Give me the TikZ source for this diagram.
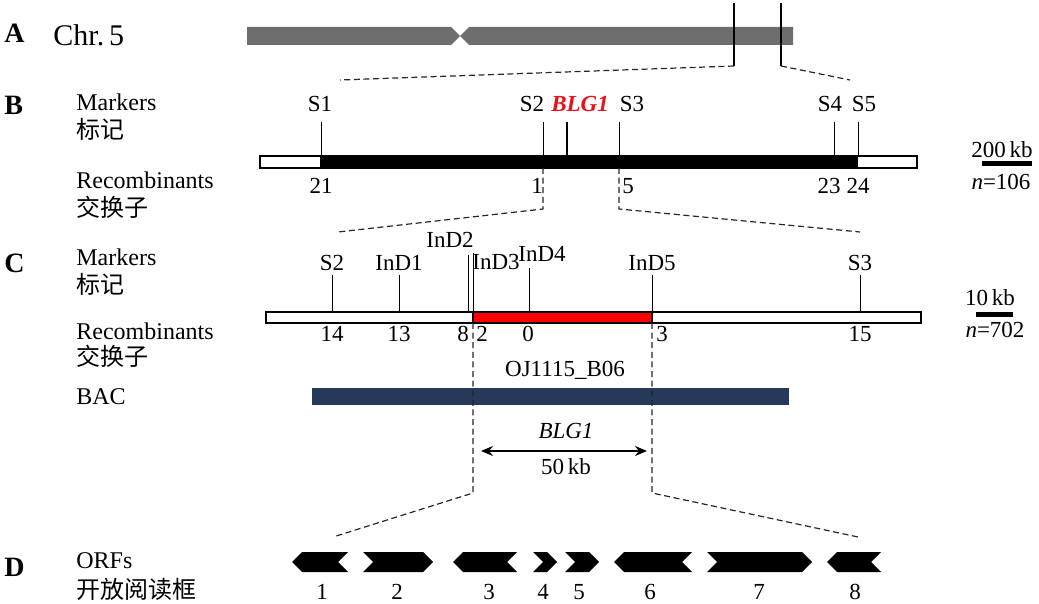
\documentclass[tikz,border=0pt]{standalone}
\usepackage{fontspec}
\setmainfont{Liberation Serif}
\newfontfamily\cjk{Noto Sans CJK SC}
\usepackage{xcolor}
\usepackage{tikz}
\usetikzlibrary{arrows.meta,positioning,calc}
\definecolor{chrgray}{HTML}{6E6E6E}
\definecolor{bacblue}{HTML}{253A5A}
\definecolor{blgred}{HTML}{E8101A}

\begin{document}
\begin{tikzpicture}[
  x=0.5pt, y=-0.5pt,
  pnl/.style={font=\fontsize{14}{16}\selectfont\bfseries, anchor=west, inner sep=0pt},
  chrlbl/.style={font=\fontsize{15}{17}\selectfont, anchor=west, inner sep=0pt},
  rowlbl/.style={font=\fontsize{12}{14}\selectfont, anchor=west, inner sep=0pt},
  cnlbl/.style={font=\cjk\fontsize{12}{14}\selectfont, anchor=west, inner sep=0pt},
  mk/.style={font=\fontsize{11.5}{13}\selectfont, inner sep=0pt},
  blg/.style={font=\fontsize{11.5}{13}\selectfont\bfseries\itshape, text=blgred, inner sep=0pt},
  barln/.style={draw, line width=0.7pt},
  tick/.style={line width=0.5pt},
  bigtick/.style={line width=1.4pt},
  zoomln/.style={line width=0.6pt, black!85, dash pattern=on 3pt off 1.8pt},
]
\useasboundingbox (0,0) rectangle (1039,604);

\def\bBt{156}
\def\bBb{168}
\def\bCt{312}
\def\bCb{323}
\def\orfT{552}
\def\orfM{562}
\def\orfB{572}

% --- A: chromosome 5 ---
\node[pnl] (pA) at (4,33) {A};
\node[chrlbl] (chr) at (53,35) {Chr.\,5};
\fill[chrgray] (247,27) -- (451,27) -- (460,36) -- (451,45) -- (247,45) -- cycle;
\fill[chrgray] (469,27) -- (793,27) -- (793,45) -- (469,45) -- (460,36) -- cycle;
\coordinate (cA1) at (734,66);
\coordinate (cA2) at (781,66);
\coordinate (zB1) at (340,80);
\coordinate (zB2) at (850,80);
\draw[bigtick] (734,3) -- (cA1);
\draw[bigtick] (781,3) -- (cA2);
\draw[zoomln] (cA1) -- (zB1);
\draw[zoomln] (cA2) -- (zB2);

% --- B: coarse mapping ---
\node[pnl] (pB) at (4,105) {B};
\node[rowlbl] (mkB) at (76,102) {Markers};
\node[cnlbl] (mkBc) at (76,129) {标记};
\node[rowlbl] (rcB) at (76,180) {Recombinants};
\node[cnlbl] (rcBc) at (76,207) {交换子};

\draw[barln, fill=white] (260,\bBt) rectangle (917,\bBb);
\filldraw[barln, fill=black] (321,\bBt) rectangle (857,\bBb);

\draw[tick] (321,122) -- (321,\bBt);
\draw[tick] (543,122) -- (543,\bBt);
\draw[bigtick] (567,122) -- (567,\bBt);
\draw[tick] (619,122) -- (619,\bBt);
\draw[tick] (834,122) -- (834,\bBt);
\draw[tick] (858,122) -- (858,\bBt);

\node[mk] (S1B) at (320,104) {S1};
\node[mk] (S2B) at (532,104) {S2};
\node[blg] (blgB) at (580,104) {BLG1};
\node[mk] (S3B) at (632,104) {S3};
\node[mk] (S4B) at (830,104) {S4};
\node[mk] (S5B) at (864,104) {S5};

\node[mk] (r21) at (321,186) {21};
\node[mk] (r1) at (537,186) {1};
\node[mk] (r5) at (628,186) {5};
\node[mk] (r23) at (829,186) {23};
\node[mk] (r24) at (858,186) {24};

\node[mk] (sbB) at (1002,150) {200\,kb};
\fill (982,161) rectangle (1032,166);
\node[mk] (nB) at (1001,182) {\textit{n}=106};

\coordinate (zC1) at (338,232);
\coordinate (zC2) at (860,232);
\draw[zoomln] (543,\bBb) -- (543,209) -- (zC1);
\draw[zoomln] (619,\bBb) -- (619,209) -- (zC2);

% --- C: fine mapping ---
\node[pnl] (pC) at (4,263) {C};
\node[rowlbl] (mkC) at (76,257) {Markers};
\node[cnlbl] (mkCc) at (76,284) {标记};
\node[rowlbl] (rcC) at (76,331) {Recombinants};
\node[cnlbl] (rcCc) at (76,356) {交换子};

\draw[barln, fill=white] (266,\bCt) rectangle (921,\bCb);
\filldraw[barln, fill=red] (473,\bCt) rectangle (652,\bCb);

\draw[tick] (332,275) -- (332,\bCt);
\draw[tick] (399,275) -- (399,\bCt);
\draw[tick] (468,255) -- (468,\bCt);
\draw[tick] (473,253) -- (473,\bCt);
\draw[tick] (529,268) -- (529,\bCt);
\draw[tick] (652,275) -- (652,\bCt);
\draw[tick] (860,275) -- (860,\bCt);

\node[mk] (S2C) at (332,263) {S2};
\node[mk] (InD1) at (399,263) {InD1};
\node[mk] (InD2) at (450,240) {InD2};
\node[mk] (InD3) at (496,262) {InD3};
\node[mk] (InD4) at (542,254) {InD4};
\node[mk] (InD5) at (652,263) {InD5};
\node[mk] (S3C) at (860,263) {S3};

\node[mk] (c14) at (332,334) {14};
\node[mk] (c13) at (399,334) {13};
\node[mk] (c8) at (463,334) {8};
\node[mk] (c2) at (482,334) {2};
\node[mk] (c0) at (528,334) {0};
\node[mk] (c3) at (662,334) {3};
\node[mk] (c15) at (860,334) {15};

\node[mk] (sbC) at (990,298) {10\,kb};
\fill (976,312) rectangle (1013,317);
\node[mk] (nC) at (995,330) {\textit{n}=702};

% BAC clone
\node[mk] (bacname) at (565,370) {OJ1115\_B06};
\node[rowlbl] (bacl) at (76,397) {BAC};
\fill[bacblue] (312,388) rectangle (789,405);

% candidate interval
\coordinate (zD1) at (333,537);
\coordinate (zD2) at (858,537);
\draw[zoomln] (473,\bCb) -- (473,493) -- (zD1);
\draw[zoomln] (652,\bCb) -- (652,493) -- (zD2);
\node[mk, font=\fontsize{11.5}{13}\selectfont\itshape] (blgC) at (566,431) {BLG1};
\coordinate (arL) at (481,451);
\coordinate (arR) at (647,451);
\draw[{Stealth[length=6pt,width=5pt]}-{Stealth[length=6pt,width=5pt]}, line width=0.6pt] (arL) -- (arR);
\node[mk] (kb50) at (566,467) {50\,kb};

% --- D: ORFs ---
\node[pnl] (pD) at (4,567) {D};
\node[rowlbl] (orfl) at (76,561) {ORFs};
\node[cnlbl] (orflc) at (76,589) {开放阅读框};

% left pointing
\fill (292,\orfM) -- (302,\orfT) -- (348,\orfT) -- (338,\orfM) -- (348,\orfB) -- (302,\orfB) -- cycle;
\fill (453,\orfM) -- (463,\orfT) -- (517,\orfT) -- (507,\orfM) -- (517,\orfB) -- (463,\orfB) -- cycle;
\fill (614,\orfM) -- (624,\orfT) -- (692,\orfT) -- (682,\orfM) -- (692,\orfB) -- (624,\orfB) -- cycle;
\fill (827,\orfM) -- (837,\orfT) -- (881,\orfT) -- (871,\orfM) -- (881,\orfB) -- (837,\orfB) -- cycle;
% right pointing
\fill (363,\orfT) -- (423,\orfT) -- (433,\orfM) -- (423,\orfB) -- (363,\orfB) -- (373,\orfM) -- cycle;
\fill (533,\orfT) -- (547,\orfT) -- (557,\orfM) -- (547,\orfB) -- (533,\orfB) -- (543,\orfM) -- cycle;
\fill (565,\orfT) -- (589,\orfT) -- (599,\orfM) -- (589,\orfB) -- (565,\orfB) -- (575,\orfM) -- cycle;
\fill (707,\orfT) -- (802,\orfT) -- (812,\orfM) -- (802,\orfB) -- (707,\orfB) -- (717,\orfM) -- cycle;

\node[mk] (o1) at (322,592) {1};
\node[mk] (o2) at (397,592) {2};
\node[mk] (o3) at (489,592) {3};
\node[mk] (o4) at (543,592) {4};
\node[mk] (o5) at (579,592) {5};
\node[mk] (o6) at (650,592) {6};
\node[mk] (o7) at (759,592) {7};
\node[mk] (o8) at (855,592) {8};

\end{tikzpicture}
\end{document}
